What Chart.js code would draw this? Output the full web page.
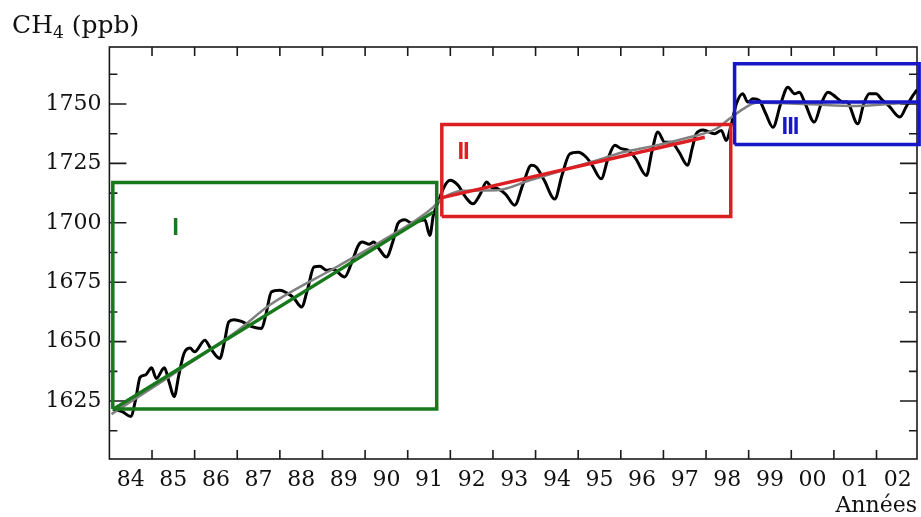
<!DOCTYPE html>
<html>
<head>
<meta charset="utf-8">
<script src="https://cdn.jsdelivr.net/npm/chart.js@4.4.1/dist/chart.umd.min.js"></script>
<style>
html, body { margin: 0; padding: 0; background: #fff; }
#wrap { width: 921px; height: 517px; }
</style>
</head>
<body>
<div id="wrap"><canvas id="ch4"></canvas></div>
<script>
// CH4 record (black curve)
const ch4Years = [1984.08, 1984.3, 1984.5, 1984.62, 1984.72, 1984.85, 1984.99, 1985.1, 1985.29, 1985.4,
  1985.52, 1985.63, 1985.75, 1985.89, 1986.0, 1986.24, 1986.38, 1986.59, 1986.7, 1986.8,
  1986.92, 1987.1, 1987.34, 1987.57, 1987.68, 1987.8, 1988.0, 1988.16, 1988.32, 1988.51,
  1988.65, 1988.8, 1988.94, 1989.1, 1989.25, 1989.52, 1989.68, 1989.84, 1989.93, 1990.1,
  1990.2, 1990.33, 1990.5, 1990.65, 1990.77, 1990.93, 1991.09, 1991.4, 1991.52, 1991.6,
  1991.72, 1991.85, 1991.99, 1992.18, 1992.35, 1992.53, 1992.7, 1992.85, 1992.96, 1993.12,
  1993.3, 1993.51, 1993.7, 1993.9, 1994.02, 1994.2, 1994.45, 1994.62, 1994.8, 1995.0,
  1995.19, 1995.32, 1995.54, 1995.7, 1995.86, 1996.01, 1996.17, 1996.35, 1996.6, 1996.73,
  1996.87, 1997.03, 1997.18, 1997.36, 1997.57, 1997.67, 1997.77, 1997.93, 1998.2, 1998.36,
  1998.47, 1998.6, 1998.71, 1998.86, 1998.98, 1999.1, 1999.25, 1999.4, 1999.57, 1999.75,
  1999.92, 2000.08, 2000.19, 2000.33, 2000.54, 2000.7, 2000.86, 2001.05, 2001.21, 2001.3,
  2001.56, 2001.7, 2001.83, 2001.99, 2002.11, 2002.3, 2002.55, 2002.7, 2002.83, 2002.95];
const ch4Values = [1621.5, 1620.5, 1618.5, 1626, 1635, 1636, 1639, 1634.5, 1639, 1633,
  1626.8, 1636, 1645, 1647.3, 1645.7, 1650.6, 1647, 1642.9, 1650, 1658.3,
  1659.2, 1658.5, 1656.3, 1655.5, 1662, 1670.9, 1671.6, 1670.5, 1668.5, 1664.6,
  1672, 1681.4, 1681.7, 1680, 1680.5, 1677.2, 1683, 1690.5, 1691.9, 1691.0,
  1691.9, 1689, 1685.6, 1692, 1699.7, 1701.3, 1699.9, 1701.3, 1694.7, 1703,
  1709, 1715, 1717.9, 1715.8, 1711, 1708, 1712, 1717.2, 1715, 1714.3,
  1712, 1707.4, 1716, 1724.2, 1723.4, 1718, 1710, 1720, 1729, 1729.7,
  1727.6, 1724.5, 1718.5, 1727, 1732.6, 1731.2, 1730.5, 1727, 1719.9, 1730,
  1738.2, 1733.9, 1733.9, 1730, 1724.2, 1731, 1737.5, 1739.1, 1737.5, 1738.9,
  1734.7, 1742, 1750, 1754.3, 1750.8, 1752.2, 1751.5, 1746, 1740.2, 1750,
  1757.1, 1754.3, 1755, 1750, 1742.4, 1750, 1755, 1752.9, 1750.8, 1751,
  1741.7, 1750, 1754.3, 1754.3, 1752.2, 1749, 1744.5, 1749, 1752.9, 1756];

// smoothed trend (grey curve)
const trendYears = [1984.05, 1985.46, 1987.02, 1987.77, 1989.33, 1990.35, 1991.6, 1991.75, 1992.3, 1993.08,
  1993.86, 1994.64, 1995.43, 1996.05, 1996.83, 1997.61, 1998.24, 1998.55, 1998.94, 1999.18,
  2000.35, 2001.52, 2002.3, 2002.95];
const trendValues = [1619.5, 1635.9, 1654.8, 1665.5, 1681.4, 1691.9, 1706.6, 1709.5, 1713.5, 1713.7,
  1717.9, 1722.1, 1726.3, 1729.7, 1732.6, 1736, 1739.6, 1743.8, 1748.7, 1750.5,
  1750, 1749.2, 1750, 1750.8];

// linear fits per period
const fitIYears = [1984.1, 1991.6];
const fitIValues = [1621.6, 1704.5];
const fitIIYears = [1991.78, 1997.97];
const fitIIValues = [1710.5, 1736];
const fitIIIYears = [1999.0, 2003.0];
const fitIIIValues = [1750.8, 1750.8];

// period boxes and their names
const periodNames = ['I', 'II', 'III'];
const periodColors = ['#17781c', '#dc1f22', '#1717c8'];
const boxLeft = [1984.08, 1991.8, 1998.67];
const boxRight = [1991.68, 1998.58, 2003.0];
const boxBottom = [1621.6, 1702.7, 1733];
const boxTop = [1717, 1741.4, 1767];
const nameYears = [1985.54, 1992.3, 1999.97];
const nameValues = [1697.7, 1729.7, 1740.2];

// axes
const firstYear = 1984;
const yearLabels = ['84', '85', '86', '87', '88', '89', '90', '91', '92', '93',
  '94', '95', '96', '97', '98', '99', '00', '01', '02'];
const yMajor = [1625, 1650, 1675, 1700, 1725, 1750];
const yMinor = [1612.5, 1637.5, 1662.5, 1687.5, 1712.5, 1737.5, 1762.5];

const pts = (xs, ys) => xs.map((x, i) => ({ x: x, y: ys[i] }));
const boxPts = i => [
  { x: boxLeft[i], y: boxBottom[i] }, { x: boxRight[i], y: boxBottom[i] },
  { x: boxRight[i], y: boxTop[i] }, { x: boxLeft[i], y: boxTop[i] },
  { x: boxLeft[i], y: boxBottom[i] }
];

const xLabelPos = yearLabels.map((_, i) => firstYear + i + 0.5);
const xTickYears = yearLabels.slice(1).map((_, i) => firstYear + 1 + i);

const serif = 'DejaVu Serif';

// frame with inward ticks, the period names and the CH4 unit label
const frameTicks = {
  id: 'frameTicks',
  beforeDatasetsDraw(chart) {
    const { ctx, chartArea: a, scales: { x, y } } = chart;
    ctx.save();
    ctx.strokeStyle = '#1a1a1a';
    ctx.lineWidth = 1.6;
    ctx.strokeRect(a.left, a.top, a.right - a.left, a.bottom - a.top);
    ctx.beginPath();
    xTickYears.forEach(v => {
      const px = x.getPixelForValue(v);
      ctx.moveTo(px, a.bottom); ctx.lineTo(px, a.bottom - 9);
      ctx.moveTo(px, a.top); ctx.lineTo(px, a.top + 9);
    });
    yMajor.forEach(v => {
      const py = y.getPixelForValue(v);
      ctx.moveTo(a.left, py); ctx.lineTo(a.left + 17, py);
      ctx.moveTo(a.right, py); ctx.lineTo(a.right - 17, py);
    });
    yMinor.forEach(v => {
      const py = y.getPixelForValue(v);
      ctx.moveTo(a.left, py); ctx.lineTo(a.left + 8, py);
      ctx.moveTo(a.right, py); ctx.lineTo(a.right - 8, py);
    });
    ctx.stroke();
    ctx.restore();
  },
  afterDatasetsDraw(chart) {
    const { ctx, scales: { x, y } } = chart;
    ctx.save();
    ctx.font = 'bold 24px "Liberation Sans"';
    ctx.letterSpacing = '-1px';
    ctx.textAlign = 'center';
    ctx.textBaseline = 'middle';
    periodNames.forEach((n, i) => {
      ctx.fillStyle = periodColors[i];
      ctx.fillText(n, x.getPixelForValue(nameYears[i]), y.getPixelForValue(nameValues[i]));
    });
    ctx.restore();

    // "CH4 (ppb)" with a lowered 4
    ctx.save();
    ctx.fillStyle = '#111';
    ctx.textAlign = 'left';
    ctx.textBaseline = 'alphabetic';
    let tx = 12;
    ctx.font = '25px "' + serif + '"';
    ctx.fillText('CH', tx, 33);
    tx += ctx.measureText('CH').width;
    ctx.font = '17px "' + serif + '"';
    ctx.fillText('4', tx, 38);
    tx += ctx.measureText('4').width;
    ctx.font = '25px "' + serif + '"';
    ctx.fillText(' (ppb)', tx, 33);
    ctx.restore();
  }
};

const lineSet = (data, color, width, extra) => Object.assign({
  data: data, borderColor: color, borderWidth: width, pointRadius: 0,
  fill: false, tension: 0
}, extra || {});

new Chart(document.getElementById('ch4'), {
  type: 'line',
  data: {
    datasets: [
      lineSet(pts(fitIYears, fitIValues), periodColors[0], 3.5),
      lineSet(pts(fitIIYears, fitIIValues), periodColors[1], 3.5),
      lineSet(pts(fitIIIYears, fitIIIValues), periodColors[2], 3.5, { clip: false }),
      lineSet(boxPts(0), periodColors[0], 3.5),
      lineSet(boxPts(1), periodColors[1], 3.5),
      lineSet(boxPts(2), periodColors[2], 3.5, { clip: false }),
      lineSet(pts(trendYears, trendValues), '#808080', 2.5, { cubicInterpolationMode: 'monotone' }),
      lineSet(pts(ch4Years, ch4Values), '#000', 3, { cubicInterpolationMode: 'monotone' })
    ]
  },
  options: {
    responsive: true,
    maintainAspectRatio: false,
    animation: false,
    layout: { padding: { left: 12, right: 4, top: 47, bottom: 0 } },
    plugins: {
      legend: { display: false },
      tooltip: { enabled: false },
      title: { display: false }
    },
    scales: {
      x: {
        type: 'linear',
        min: firstYear,
        max: 2002.95,
        grid: { display: false, drawTicks: false },
        border: { display: false },
        afterBuildTicks: s => { s.ticks = xLabelPos.map(v => ({ value: v })); },
        afterFit: s => { s.height = 58; },
        ticks: {
          autoSkip: false, maxRotation: 0, padding: 8, color: '#111',
          font: { family: serif, size: 22 },
          callback: (v, i) => yearLabels[i]
        },
        title: {
          display: true, text: 'Années', align: 'end', color: '#111',
          font: { family: serif, size: 22, lineHeight: 1 },
          padding: { top: 0, bottom: 0 }
        }
      },
      y: {
        type: 'linear',
        min: 1600.6,
        max: 1774,
        grid: { display: false, drawTicks: false },
        border: { display: false },
        afterBuildTicks: s => { s.ticks = yMajor.map(v => ({ value: v })); },
        afterFit: s => { s.width = 97.4; },
        ticks: {
          padding: 8, color: '#111',
          font: { family: serif, size: 22 },
          callback: v => String(v)
        }
      }
    }
  },
  plugins: [frameTicks]
});
</script>
</body>
</html>
